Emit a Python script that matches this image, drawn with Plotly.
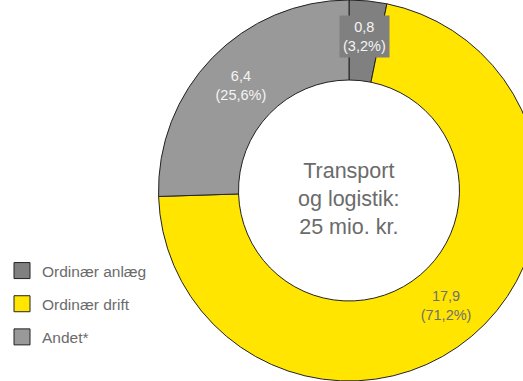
import math
import plotly.graph_objects as go

categories = ["Ordinær anlæg", "Ordinær drift", "Andet*"]
values = [0.8, 17.9, 6.4]
value_labels = ["0,8", "17,9", "6,4"]
pct_labels = ["3,2%", "71,2%", "25,6%"]
colors = ["#808080", "#FFE500", "#999999"]
text_colors = ["#f4f4f4", "#707070", "#f4f4f4"]
center_text = "Transport<br>og logistik:<br>25 mio. kr."

FONT = "Liberation Sans, Arial, sans-serif"
W, H = 562, 381
cx, r = 349, 190.5
cy = H / 2

labels_txt = [f"{v}<br>({p})" for v, p in zip(value_labels, pct_labels)]
# the smallest slice gets a boxed annotation (as in the reference) instead of inside text
small = values.index(min(values))
pie_text = [t if i != small else "" for i, t in enumerate(labels_txt)]

fig = go.Figure()
fig.add_trace(go.Pie(
    labels=categories,
    values=values,
    text=pie_text,
    textinfo="text",
    textposition="inside",
    insidetextorientation="horizontal",
    insidetextfont=dict(color=text_colors, size=14.5, family=FONT),
    sort=False,
    direction="clockwise",
    rotation=0,
    hole=0.58,
    marker=dict(colors=colors, line=dict(color="#222222", width=1)),
    domain=dict(x=[(cx - r) / W, (cx + r) / W], y=[0, 1]),
    hoverinfo="label+value",
    showlegend=False,
))

# legend proxies
for i, (name, c) in enumerate(zip(categories, colors)):
    fig.add_trace(go.Scatter(
        x=[None], y=[None], mode="markers", name=name,
        legendgroup=f"g{i}",
        marker=dict(symbol="square", size=16, color=c, line=dict(color="#222222", width=1)),
        showlegend=True, hoverinfo="skip",
    ))

# label for the small slice, positioned from its mid-angle
total = sum(values)
cum = sum(values[:small]) + values[small] / 2
theta = 2 * math.pi * cum / total
rl = 0.815 * r
lx = cx + rl * math.sin(theta)
ly = cy - rl * math.cos(theta)
fig.add_annotation(
    text=labels_txt[small], x=lx / W, y=1 - ly / H, xref="paper", yref="paper",
    xanchor="center", yanchor="middle",
    showarrow=False, bgcolor=colors[small], borderpad=3,
    font=dict(size=14.5, color=text_colors[small], family=FONT),
)

fig.add_annotation(
    text=center_text, x=cx / W, y=0.5, xref="paper", yref="paper",
    xanchor="center", yanchor="middle",
    showarrow=False, yshift=-8,
    font=dict(size=21.5, color="#6b6b6b", family=FONT),
)

fig.update_layout(
    width=W, height=H,
    margin=dict(l=0, r=0, t=0, b=0),
    paper_bgcolor="white",
    plot_bgcolor="white",
    xaxis=dict(visible=False),
    yaxis=dict(visible=False),
    showlegend=True,
    legend=dict(
        x=2 / W, y=1 - 304 / H, xanchor="left", yanchor="middle",
        font=dict(size=15.5, color="#6b6b6b", family=FONT),
        bgcolor="rgba(0,0,0,0)",
        tracegroupgap=10,
    ),
)

fig.write_html(
    "out.html",
    config={"displayModeBar": False},
    post_script="document.body.style.margin='0';document.body.style.overflow='hidden';",
)
